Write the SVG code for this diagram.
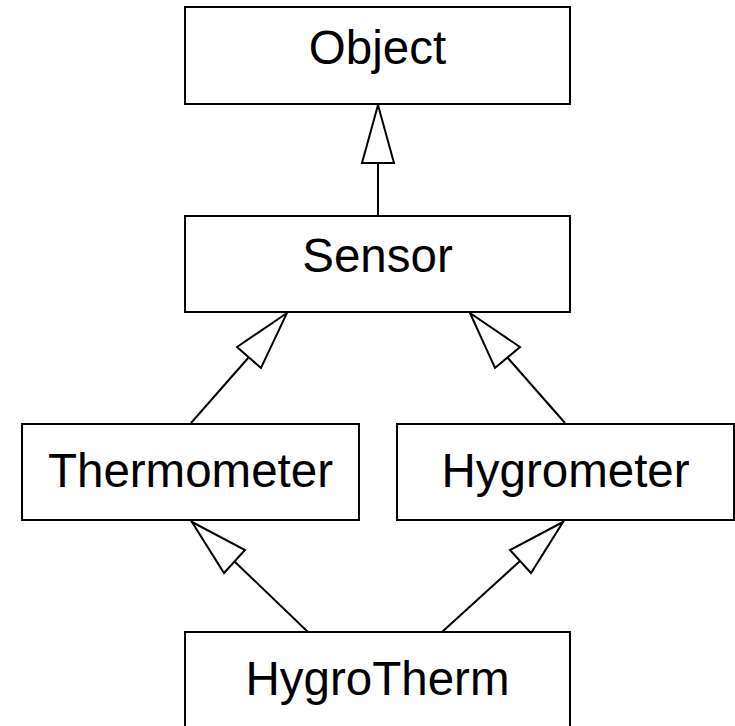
<svg xmlns="http://www.w3.org/2000/svg" width="735" height="726" viewBox="0 0 735 726">
<style>
.box{fill:#fff;stroke:#000;stroke-width:2}
.lbl{font-family:"Liberation Sans",Arial,sans-serif;font-size:47.5px;fill:#000;text-anchor:middle}
.ln{stroke:#000;stroke-width:2;fill:none}
.hd{fill:#fff;stroke:#000;stroke-width:2;stroke-linejoin:miter}
</style>
<rect width="735" height="726" fill="#fff"/>
<g id="connectors">
<line class="ln" x1="378" y1="163" x2="378" y2="216"/>
<polygon class="hd" points="378,105 362,163 394,163"/>
<line class="ln" x1="249" y1="357" x2="191" y2="423"/>
<polygon class="hd" points="287,313 237,347 261,368"/>
<line class="ln" x1="507" y1="357" x2="565" y2="423"/>
<polygon class="hd" points="470,313 520,347 495,368"/>
<line class="ln" x1="234" y1="561" x2="308" y2="632"/>
<polygon class="hd" points="192,522 245,550 224,573"/>
<line class="ln" x1="520" y1="561" x2="442" y2="632"/>
<polygon class="hd" points="563,522 510,550 531,573"/>
</g>
<g id="Object"><rect class="box" x="185" y="7" width="385" height="97"/><text class="lbl" x="377.5" y="64">Object</text></g>
<g id="Sensor"><rect class="box" x="185" y="216" width="385" height="96"/><text class="lbl" x="377.5" y="272">Sensor</text></g>
<g id="Thermometer"><rect class="box" x="22" y="424" width="337" height="96"/><text class="lbl" x="190.5" y="487">Thermometer</text></g>
<g id="Hygrometer"><rect class="box" x="397" y="424" width="337" height="96"/><text class="lbl" x="565.5" y="487">Hygrometer</text></g>
<g id="HygroTherm"><rect class="box" x="185" y="632" width="385" height="100"/><text class="lbl" x="377.5" y="695">HygroTherm</text></g>
</svg>
